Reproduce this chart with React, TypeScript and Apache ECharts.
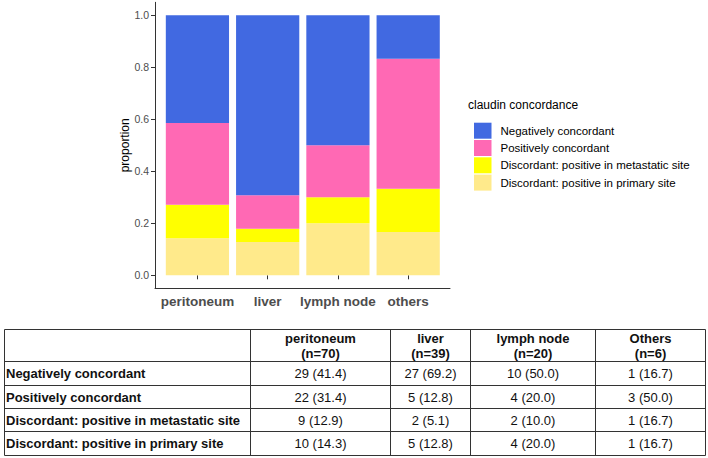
import React, { useEffect, useRef } from "react";
import * as echarts from "echarts";

const sites = ["peritoneum", "liver", "lymph node", "others"];
const tableSiteHeaders = ["peritoneum", "liver", "lymph node", "Others"];
const siteN = [70, 39, 20, 6];
const groups = [
  "Negatively concordant",
  "Positively concordant",
  "Discordant: positive in metastatic site",
  "Discordant: positive in primary site",
];
const negCounts = [29, 27, 10, 1];
const posCounts = [22, 5, 4, 3];
const metCounts = [9, 2, 2, 1];
const priCounts = [10, 5, 4, 1];
const groupColors = ["#4169E1", "#FF69B4", "#FFFF00", "#FFEA8B"];
const yTicks = [0, 0.2, 0.4, 0.6, 0.8, 1.0];
const legendTitle = "claudin concordance";
const yName = "proportion";

const FONT = "'Liberation Sans', Arial, sans-serif";

export default function App() {
  const ref = useRef<HTMLDivElement>(null);
  useEffect(() => {
    if (!ref.current) return;
    const chart = echarts.init(ref.current, undefined, { renderer: "svg" });
    const countsByGroup = [negCounts, posCounts, metCounts, priCounts];

    // stacking order bottom to top: primary, metastatic, positive, negative
    const stackOrder = [3, 2, 1, 0];
    const series = stackOrder.map((g) => ({
      type: "bar",
      name: groups[g],
      stack: "total",
      barWidth: "90%",
      xAxisIndex: 0,
      yAxisIndex: 0,
      itemStyle: { color: groupColors[g] },
      data: sites.map((_, i) => countsByGroup[g][i] / siteN[i]),
    }));

    // table layout
    const colX = [4.5, 250.5, 390.5, 470.5, 595.5, 705.5];
    const rowY = [329.5, 361.5, 385.5, 408.5, 431.5, 455.5];
    const lineStyle = { stroke: "#333", lineWidth: 1 };
    const graphic: any[] = [];
    graphic.push({
      type: "text",
      left: 468,
      top: 99,
      style: { text: legendTitle, fontSize: 12, fill: "#000", fontFamily: FONT },
    });
    rowY.forEach((y) => {
      graphic.push({ type: "line", shape: { x1: colX[0], y1: y, x2: colX[colX.length - 1], y2: y }, style: lineStyle });
    });
    colX.forEach((x) => {
      graphic.push({ type: "line", shape: { x1: x, y1: rowY[0], x2: x, y2: rowY[rowY.length - 1] }, style: lineStyle });
    });
    tableSiteHeaders.forEach((h, i) => {
      graphic.push({
        type: "text",
        x: (colX[i + 1] + colX[i + 2]) / 2,
        y: (rowY[0] + rowY[1]) / 2,
        style: {
          text: `${h}\n(n=${siteN[i]})`,
          fontSize: 13,
          fontWeight: "bold",
          fontFamily: FONT,
          fill: "#111",
          align: "center",
          verticalAlign: "middle",
          lineHeight: 15,
        },
      });
    });
    groups.forEach((g, r) => {
      const cy = (rowY[r + 1] + rowY[r + 2]) / 2;
      graphic.push({
        type: "text",
        x: 6,
        y: cy,
        style: { text: g, fontSize: 13, fontWeight: "bold", fontFamily: FONT, fill: "#111", align: "left", verticalAlign: "middle" },
      });
      sites.forEach((_, i) => {
        const c = countsByGroup[r][i];
        graphic.push({
          type: "text",
          x: (colX[i + 1] + colX[i + 2]) / 2,
          y: cy,
          style: {
            text: `${c} (${((c / siteN[i]) * 100).toFixed(1)})`,
            fontSize: 13,
            fontFamily: FONT,
            fill: "#111",
            align: "center",
            verticalAlign: "middle",
          },
        });
      });
    });

    const axisColor = "#333";

    chart.setOption({
      animation: false,
      backgroundColor: "#fff",
      textStyle: { fontFamily: FONT },
      grid: [
        { left: 162.3, top: 2.3, width: 281, height: 286, containLabel: false },
        { left: 155, top: 2.3, width: 295, height: 286, containLabel: false },
      ],
      xAxis: [
        {
          type: "category",
          gridIndex: 0,
          data: sites,
          boundaryGap: true,
          axisLine: { show: false },
          axisTick: { show: true, alignWithLabel: true, interval: 0, length: 4, lineStyle: { color: axisColor } },
          axisLabel: {
            interval: 0,
            hideOverlap: false,
            fontSize: 13.5,
            fontWeight: "bold",
            color: "#4d4d4d",
            margin: 6,
            fontFamily: FONT,
          },
          splitLine: { show: false },
        },
        {
          type: "value",
          gridIndex: 1,
          min: 0,
          max: 1,
          axisLine: { show: true, onZero: false, lineStyle: { color: axisColor, width: 1 } },
          axisTick: { show: false },
          axisLabel: { show: false },
          splitLine: { show: false },
        },
      ],
      yAxis: [
        {
          type: "value",
          gridIndex: 0,
          min: -0.05,
          max: 1.05,
          offset: 7.3,
          name: yName,
          nameLocation: "middle",
          nameGap: 21,
          nameTextStyle: { fontSize: 12, color: "#000", fontFamily: FONT },
          splitLine: { show: false },
          axisLine: { show: true, onZero: false, lineStyle: { color: axisColor, width: 1 } },
          axisTick: { show: true, customValues: yTicks, length: 4, lineStyle: { color: axisColor } },
          axisLabel: {
            customValues: yTicks,
            formatter: (v: number) => v.toFixed(1),
            fontSize: 10.5,
            color: "#4d4d4d",
            margin: 6,
            fontFamily: FONT,
          },
        },
        {
          type: "value",
          gridIndex: 1,
          show: false,
          min: 0,
          max: 1,
        },
      ],
      legend: {
        orient: "vertical",
        left: 469,
        top: 117.7,
        itemWidth: 17.5,
        itemHeight: 16,
        itemGap: 1.3,
        icon: "rect",
        selectedMode: false,
        data: groups,
        textStyle: { fontSize: 11.5, color: "#000", fontFamily: FONT, padding: [0, 0, 0, 4] },
      },
      series,
      graphic,
    });
    return () => chart.dispose();
  }, []);
  return (
    <div
      ref={ref}
      style={{ position: "absolute", left: 0, top: 0, width: 708, height: 458 }}
    />
  );
}
